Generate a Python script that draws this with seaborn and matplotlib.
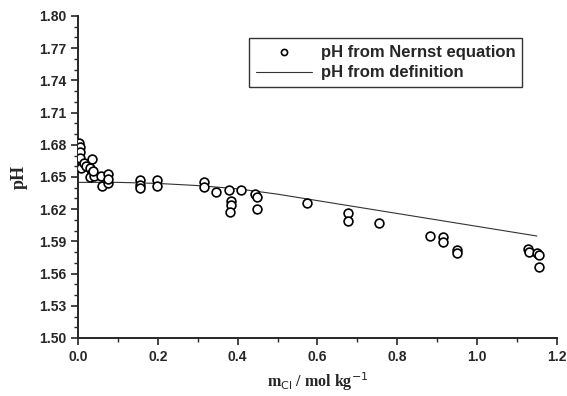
import numpy as np
import pandas as pd
import matplotlib
matplotlib.use("Agg")
import matplotlib.pyplot as plt
from matplotlib.ticker import MultipleLocator, FormatStrFormatter
import seaborn as sns

# pH from Nernst equation (measured points)
m_nernst = [0.003, 0.005, 0.005, 0.005, 0.008, 0.015, 0.020, 0.035, 0.030, 0.035, 0.030,
            0.040, 0.038, 0.058, 0.060, 0.075, 0.075, 0.075,
            0.155, 0.155, 0.155, 0.198, 0.198,
            0.315, 0.315, 0.345, 0.378, 0.383, 0.383, 0.380, 0.408,
            0.444, 0.449, 0.449, 0.574, 0.677, 0.677, 0.754,
            0.882, 0.915, 0.915, 0.950, 0.950,
            1.128, 1.130, 1.150, 1.155, 1.155]
ph_nernst = [1.682, 1.678, 1.673, 1.668, 1.658, 1.663, 1.660, 1.667, 1.658, 1.654, 1.650,
             1.651, 1.656, 1.651, 1.642, 1.653, 1.644, 1.648,
             1.647, 1.643, 1.640, 1.647, 1.642,
             1.645, 1.641, 1.636, 1.638, 1.628, 1.624, 1.617, 1.638,
             1.634, 1.631, 1.620, 1.626, 1.616, 1.609, 1.607,
             1.595, 1.594, 1.589, 1.582, 1.579,
             1.583, 1.580, 1.579, 1.577, 1.566]

# pH from definition (curve)
m_def = [0.0, 0.1, 0.2, 0.3, 0.4, 0.5, 0.6, 0.7, 0.8, 0.9, 1.0, 1.1, 1.15]
ph_def = [1.645, 1.645, 1.644, 1.642, 1.639, 1.634, 1.628, 1.622, 1.616, 1.610, 1.604, 1.598, 1.595]

pts = pd.DataFrame({"m": m_nernst, "pH": ph_nernst})
curve = pd.DataFrame({"m": m_def, "pH": ph_def})

sns.set_style("ticks")
plt.rcParams["font.family"] = ["Liberation Sans", "DejaVu Sans"]

fig = plt.figure(figsize=(5.67, 3.96), dpi=100)
ax = fig.add_axes([0.1376, 0.1465, 0.8445, 0.8131])

sns.lineplot(data=curve, x="m", y="pH", ax=ax, color="#333333", linewidth=0.8,
             label="pH from definition")
sns.scatterplot(data=pts, x="m", y="pH", ax=ax, marker="o", s=40,
                facecolor="white", edgecolor="black", linewidth=1.2,
                label="pH from Nernst equation", zorder=3)

ax.set_xlim(0.0, 1.2)
ax.set_ylim(1.50, 1.80)
ax.xaxis.set_major_locator(MultipleLocator(0.2))
ax.xaxis.set_minor_locator(MultipleLocator(0.1))
ax.yaxis.set_major_locator(MultipleLocator(0.03))
ax.yaxis.set_minor_locator(MultipleLocator(0.01))
ax.xaxis.set_major_formatter(FormatStrFormatter("%.1f"))
ax.yaxis.set_major_formatter(FormatStrFormatter("%.2f"))
ax.tick_params(which="major", direction="out", length=5, width=1.2, labelsize=10)
ax.tick_params(which="minor", direction="out", length=3, width=1.0)
for lab in ax.get_xticklabels() + ax.get_yticklabels():
    lab.set_fontweight("bold")

sns.despine(ax=ax)
ax.spines["left"].set_linewidth(1.4)
ax.spines["bottom"].set_linewidth(1.4)

ax.set_xlabel(r"m$_{\mathrm{Cl}}$ / mol kg$^{\mathrm{-1}}$", family="Liberation Serif",
              fontsize=11.5, fontweight="bold", labelpad=5)
ax.set_ylabel("pH", family="Liberation Serif", fontsize=13, fontweight="bold", labelpad=8)

handles, labels = ax.get_legend_handles_labels()
order = [labels.index("pH from Nernst equation"), labels.index("pH from definition")]
leg = ax.legend([handles[i] for i in order], [labels[i] for i in order],
                loc="upper right", bbox_to_anchor=(0.927, 0.932), borderaxespad=0,
                frameon=True, fancybox=False, edgecolor="black",
                prop={"size": 12, "weight": "bold"}, markerscale=0.7,
                handlelength=3.4, borderpad=0.4, labelspacing=0.35, handletextpad=0.5)
leg.get_frame().set_linewidth(1.0)

fig.savefig("out.png", dpi=100)
